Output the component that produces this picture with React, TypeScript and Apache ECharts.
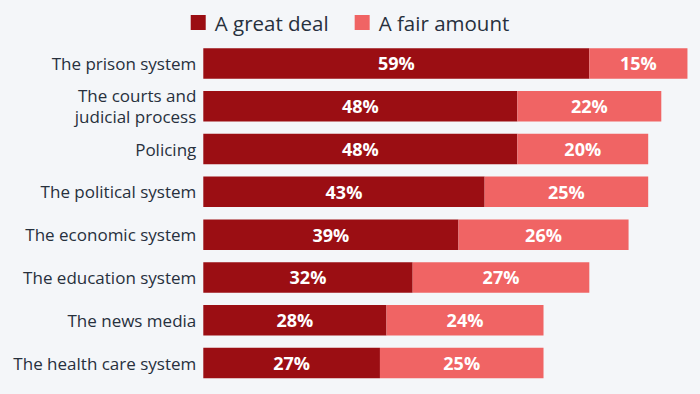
import React, { useEffect, useRef } from "react";
import * as echarts from "echarts";

const categories = [
  "The prison system",
  "The courts and\njudicial process",
  "Policing",
  "The political system",
  "The economic system",
  "The education system",
  "The news media",
  "The health care system",
];
const greatDeal = [59, 48, 48, 43, 39, 32, 28, 27];
const fairAmount = [15, 22, 20, 25, 26, 27, 24, 25];
const seriesNames = ["A great deal", "A fair amount"];

export default function App() {
  const ref = useRef<HTMLDivElement>(null);
  useEffect(() => {
    if (!ref.current) return;
    const chart = echarts.init(ref.current, null, { renderer: "svg" });
    const font = "'Open Sans', 'Noto Sans', sans-serif";
    const label = {
      show: true,
      position: "inside" as const,
      formatter: "{c}%",
      color: "#ffffff",
      fontWeight: "bold" as const,
      fontSize: 18,
      fontFamily: font,
    };
    chart.setOption({
      animation: false,
      backgroundColor: "#f4f6f9",
      textStyle: { fontFamily: font },
      legend: {
        top: 7,
        left: "center",
        itemWidth: 15,
        itemHeight: 15,
        itemGap: 26,
        icon: "rect",
        textStyle: { fontSize: 20.5, color: "#27303d", fontFamily: font, padding: [0, 0, 0, 4] },
        data: seriesNames,
      },
      grid: { left: 203.3, right: 6, top: 42, bottom: 9.5, containLabel: false },
      xAxis: {
        type: "value",
        min: 0,
        max: 75,
        show: false,
      },
      yAxis: {
        type: "category",
        inverse: true,
        data: categories,
        axisLine: { show: false },
        axisTick: { show: false },
        splitLine: { show: false },
        axisLabel: {
          margin: 7,
          fontSize: 17,
          lineHeight: 20.5,
          color: "#27303d",
          fontFamily: font,
        },
      },
      series: [
        {
          name: seriesNames[0],
          type: "bar",
          stack: "total",
          data: greatDeal,
          barWidth: 30.5,
          itemStyle: { color: "#9b0e13" },
          label,
        },
        {
          name: seriesNames[1],
          type: "bar",
          stack: "total",
          data: fairAmount,
          barWidth: 30.5,
          itemStyle: { color: "#f06464" },
          label,
        },
      ],
    });
    return () => chart.dispose();
  }, []);
  return <div ref={ref} style={{ width: 700, height: 394, position: "fixed", left: 0, top: 0 }} />;
}
